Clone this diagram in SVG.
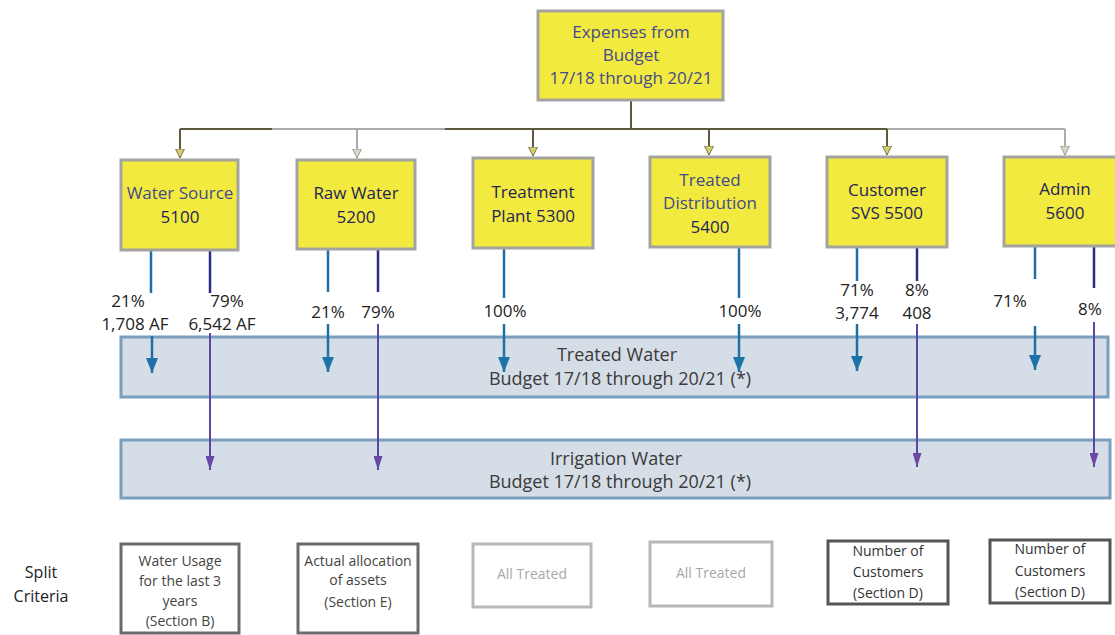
<svg xmlns="http://www.w3.org/2000/svg" width="1115" height="635" viewBox="0 0 1115 635">
<style>
  .t { font-family: "Open Sans", "Liberation Sans", sans-serif; text-anchor: middle; }
  .node rect { fill: #f2ea3e; stroke: #a3a3a0; stroke-width: 3; }
  .nl { font-size: 17px; fill: #1f2458; }
  .nl2 { font-size: 17px; fill: #444a8c; }
  .pct { font-size: 17px; fill: #222; }
  .band rect { fill: #d5dde7; stroke: #7a9fbe; stroke-width: 3; }
  .bl { font-size: 18px; fill: #3a3a3a; }
  .crit rect { fill: #fff; stroke-width: 3; }
  .cl { font-size: 14px; }
  .dark rect { stroke: #6a6a6a; } .dark text { fill: #444; }
  .light rect { stroke: #b8b8b8; } .light text { fill: #a8a8a8; }
  .darker rect { stroke: #555; } .darker text { fill: #333; }
  .bus { fill: none; stroke: #5e5a3c; stroke-width: 2; }
  .busg { fill: none; stroke: #ababab; stroke-width: 2; }
  .blue { stroke: #1f6ea6; stroke-width: 2.5; fill: none; }
  .navy { stroke: #2b2c85; stroke-width: 2.5; fill: none; }
  .purp { stroke: #5d45a0; stroke-width: 2; fill: none; }
</style>
<defs>
  <marker id="ab" viewBox="0 0 15 12" refX="15" refY="6" markerWidth="15" markerHeight="12" markerUnits="userSpaceOnUse" orient="auto">
    <path d="M0,0 L15,6 L0,12 z" fill="#1f72a8"/>
  </marker>
  <marker id="ap" viewBox="0 0 14 9" refX="14" refY="4.5" markerWidth="14" markerHeight="9" markerUnits="userSpaceOnUse" orient="auto">
    <path d="M0,0 L14,4.5 L0,9 z" fill="#6a48a6"/>
  </marker>
  <marker id="at" viewBox="0 0 9 10" refX="9" refY="5" markerWidth="9" markerHeight="10" markerUnits="userSpaceOnUse" orient="auto">
    <path d="M0,0.5 L9,5 L0,9.5 z" fill="#d6cf6a" stroke="#7a7658" stroke-width="1"/>
  </marker>
  <marker id="ag" viewBox="0 0 9 10" refX="9" refY="5" markerWidth="9" markerHeight="10" markerUnits="userSpaceOnUse" orient="auto">
    <path d="M0,0.5 L9,5 L0,9.5 z" fill="#d8d8c8" stroke="#9a9a9a" stroke-width="1"/>
  </marker>
</defs>

<!-- bands -->
<g id="treated-water" class="band">
  <rect x="121" y="337" width="987" height="60"/>
  <text class="t bl" x="617" y="361">Treated Water</text>
  <text class="t bl" x="620" y="385">Budget 17/18 through 20/21 (*)</text>
</g>
<g id="irrigation-water" class="band">
  <rect x="121" y="440" width="989" height="58"/>
  <text class="t bl" x="616" y="465">Irrigation Water</text>
  <text class="t bl" x="620" y="488">Budget 17/18 through 20/21 (*)</text>
</g>

<!-- connectors -->
<g id="connectors">
  <path class="bus" d="M631,100 V129"/>
  <path class="bus" d="M180,129 H272"/>
  <path class="busg" d="M272,129 H445"/>
  <path class="bus" d="M445,129 H887"/>
  <path class="busg" d="M887,129 H1065"/>
  <path class="bus" d="M180,129 V158" marker-end="url(#at)"/>
  <path class="busg" d="M357,129 V158" marker-end="url(#ag)"/>
  <path class="bus" d="M533,129 V156" marker-end="url(#at)"/>
  <path class="bus" d="M709,129 V155" marker-end="url(#at)"/>
  <path class="bus" d="M887,129 V155" marker-end="url(#at)"/>
  <path class="busg" d="M1065,129 V155" marker-end="url(#ag)"/>

  <!-- 5100 -->
  <path class="blue" d="M151,250 V293"/>
  <path class="blue" d="M152,336 V373" marker-end="url(#ab)"/>
  <path class="navy" d="M210,250 V293"/>
  <path class="purp" d="M210,333 V470" marker-end="url(#ap)"/>
  <!-- 5200 -->
  <path class="blue" d="M328,249 V292"/>
  <path class="blue" d="M328,324 V372" marker-end="url(#ab)"/>
  <path class="navy" d="M378,249 V292"/>
  <path class="purp" d="M378,324 V470" marker-end="url(#ap)"/>
  <!-- 5300 -->
  <path class="blue" d="M504,248 V298"/>
  <path class="blue" d="M504,324 V372" marker-end="url(#ab)"/>
  <!-- 5400 -->
  <path class="blue" d="M739,247 V298"/>
  <path class="blue" d="M739,324 V372" marker-end="url(#ab)"/>
  <!-- 5500 -->
  <path class="blue" d="M857,247 V281"/>
  <path class="blue" d="M857,324 V371" marker-end="url(#ab)"/>
  <path class="navy" d="M917,247 V281"/>
  <path class="purp" d="M917,324 V467" marker-end="url(#ap)"/>
  <!-- 5600 -->
  <path class="blue" d="M1035,246 V279"/>
  <path class="blue" d="M1035,326 V370" marker-end="url(#ab)"/>
  <path class="navy" d="M1094,246 V288"/>
  <path class="purp" d="M1094,322 V467" marker-end="url(#ap)"/>
</g>

<!-- labels on connectors -->
<g id="split-labels" class="t pct">
  <text x="128" y="307">21%</text>
  <text x="135" y="330">1,708 AF</text>
  <text x="227" y="307">79%</text>
  <text x="222" y="330">6,542 AF</text>
  <text x="328" y="318">21%</text>
  <text x="378" y="318">79%</text>
  <text x="505" y="317">100%</text>
  <text x="740" y="317">100%</text>
  <text x="857" y="296">71%</text>
  <text x="857" y="319">3,774</text>
  <text x="917" y="296">8%</text>
  <text x="917" y="319">408</text>
  <text x="1010" y="307">71%</text>
  <text x="1090" y="315">8%</text>
</g>

<!-- nodes -->
<g id="expenses" class="node">
  <rect x="538" y="11" width="185" height="89"/>
  <text class="t nl2" x="631" y="38">Expenses from</text>
  <text class="t nl2" x="631" y="61">Budget</text>
  <text class="t nl2" x="631" y="84">17/18 through 20/21</text>
</g>
<g id="n5100" class="node">
  <rect x="121" y="160" width="117" height="90"/>
  <text class="t nl2" x="180" y="199">Water Source</text>
  <text class="t nl" x="180" y="223">5100</text>
</g>
<g id="n5200" class="node">
  <rect x="297" y="160" width="118" height="89"/>
  <text class="t nl" x="356" y="199">Raw Water</text>
  <text class="t nl" x="356" y="223">5200</text>
</g>
<g id="n5300" class="node">
  <rect x="473" y="158" width="120" height="90"/>
  <text class="t nl" x="533" y="198">Treatment</text>
  <text class="t nl" x="533" y="222">Plant 5300</text>
</g>
<g id="n5400" class="node">
  <rect x="650" y="157" width="120" height="90"/>
  <text class="t nl2" x="710" y="186">Treated</text>
  <text class="t nl2" x="710" y="209">Distribution</text>
  <text class="t nl" x="710" y="233">5400</text>
</g>
<g id="n5500" class="node">
  <rect x="827" y="157" width="120" height="90"/>
  <text class="t nl" x="887" y="196">Customer</text>
  <text class="t nl" x="887" y="219">SVS 5500</text>
</g>
<g id="n5600" class="node">
  <rect x="1004" y="157" width="125" height="89"/>
  <text class="t nl" x="1065" y="195">Admin</text>
  <text class="t nl" x="1065" y="219">5600</text>
</g>

<!-- split criteria -->
<g id="split-criteria" class="t">
  <text x="41" y="578" font-size="16" fill="#222">Split</text>
  <text x="41" y="602" font-size="16" fill="#222">Criteria</text>
</g>
<g id="c5100" class="crit dark">
  <rect x="121" y="544" width="118" height="89"/>
  <text class="t cl" x="180" y="566">Water Usage</text>
  <text class="t cl" x="180" y="586">for the last 3</text>
  <text class="t cl" x="180" y="606">years</text>
  <text class="t cl" x="180" y="626">(Section B)</text>
</g>
<g id="c5200" class="crit dark">
  <rect x="298" y="544" width="120" height="89"/>
  <text class="t cl" x="358" y="566">Actual allocation</text>
  <text class="t cl" x="358" y="585">of assets</text>
  <text class="t cl" x="358" y="607">(Section E)</text>
</g>
<g id="c5300" class="crit light">
  <rect x="473" y="544" width="118" height="63"/>
  <text class="t cl" x="532" y="579">All Treated</text>
</g>
<g id="c5400" class="crit light">
  <rect x="650" y="542" width="122" height="64"/>
  <text class="t cl" x="711" y="578">All Treated</text>
</g>
<g id="c5500" class="crit darker">
  <rect x="828" y="541" width="120" height="63"/>
  <text class="t cl" x="888" y="556">Number of</text>
  <text class="t cl" x="888" y="577">Customers</text>
  <text class="t cl" x="888" y="598">(Section D)</text>
</g>
<g id="c5600" class="crit darker">
  <rect x="990" y="540" width="120" height="63"/>
  <text class="t cl" x="1050" y="554">Number of</text>
  <text class="t cl" x="1050" y="576">Customers</text>
  <text class="t cl" x="1050" y="597">(Section D)</text>
</g>
</svg>
